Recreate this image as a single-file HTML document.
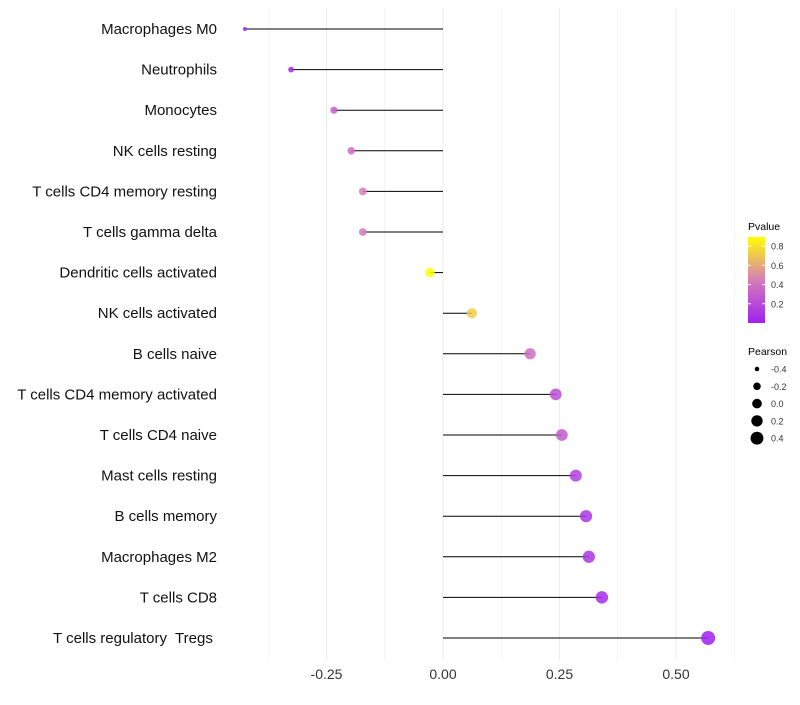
<!DOCTYPE html>
<html><head><meta charset="utf-8"><style>
body{margin:0;background:#fff;font-family:"Liberation Sans",sans-serif}
text{white-space:pre}
</style></head><body>
<svg id="chart" width="800" height="700" xmlns="http://www.w3.org/2000/svg"></svg>
<script>
const categories=["Macrophages M0","Neutrophils","Monocytes","NK cells resting","T cells CD4 memory resting","T cells gamma delta","Dendritic cells activated","NK cells activated","B cells naive","T cells CD4 memory activated","T cells CD4 naive","Mast cells resting","B cells memory","Macrophages M2","T cells CD8","T cells regulatory  Tregs "];
const pearson=[-0.425,-0.326,-0.234,-0.197,-0.172,-0.172,-0.028,0.062,0.187,0.242,0.255,0.285,0.307,0.313,0.341,0.569];
const pvalues=[0.01,0.05,0.3,0.38,0.45,0.45,0.9,0.72,0.38,0.22,0.28,0.15,0.1,0.1,0.05,0.001];
const xTicks=[-0.25,0,0.25,0.5];
const xTickLabels=["-0.25","0.00","0.25","0.50"];
const sizeLegend=[-0.4,-0.2,0.0,0.2,0.4];
const colorLegend=[0.8,0.6,0.4,0.2];

const svg=document.getElementById('chart');
const NS="http://www.w3.org/2000/svg";
function mk(t,a,p){const e=document.createElementNS(NS,t);for(const k in a)e.setAttribute(k,a[k]);(p||svg).appendChild(e);return e;}
const x=v=>443+v*466;
const y=i=>29+i*40.6;
const pmin=Math.min(...pearson),pmax=Math.max(...pearson);
const r=v=>Math.sqrt(2*2+Math.max(0,(v-pmin))/(pmax-pmin)*(7*7-2*2));
function lerp(a,b,t){return a+(b-a)*t;}
function col(p){const t=Math.max(0,Math.min(1,p/0.895));
 const lo=[160,32,240],mid=[214,125,184],hi=[255,255,0];let c;
 if(t<0.5)c=lo.map((v,i)=>lerp(v,mid[i],t*2));else c=mid.map((v,i)=>lerp(v,hi[i],(t-0.5)*2));
 return `rgb(${c.map(Math.round).join(',')})`;}
[-0.375,-0.25,-0.125,0,0.125,0.25,0.375,0.5,0.625].forEach(v=>{
 const g=mk('line',{x1:x(v),x2:x(v),y1:8,y2:660,stroke:'#ededed','stroke-width':xTicks.includes(v)?1.1:0.6});
 
 
});
categories.forEach((c,i)=>{
 const l=mk('line',{x1:x(0),x2:x(pearson[i]),y1:y(i),y2:y(i),stroke:'#000','stroke-width':1});
 
 
 const pt=mk('circle',{cx:x(pearson[i]),cy:y(i),r:r(pearson[i]),fill:col(pvalues[i]),opacity:0.85});
 
 
 const t=mk('text',{x:217,y:y(i)+5,'text-anchor':'end','font-size':15,fill:'#111'});t.textContent=c;
 
 
});
xTicks.forEach((v,i)=>{const t=mk('text',{x:x(v),y:679,'text-anchor':'middle','font-size':14,fill:'#333'});t.textContent=xTickLabels[i];
 
 });
const lt=mk('text',{x:748,y:230,'font-size':10.5,fill:'#000'});lt.textContent='Pvalue';


const defs=mk('defs',{});const gr=mk('linearGradient',{id:'pg',x1:0,y1:1,x2:0,y2:0},defs);
for(let k=0;k<=10;k++){mk('stop',{offset:k/10,'stop-color':col(0.895*k/10)},gr);}
const cb=mk('rect',{x:748,y:237,width:17,height:86,fill:'url(#pg)'});


const cy=p=>323-p/0.895*86;
colorLegend.forEach(p=>{mk('line',{x1:748,x2:751,y1:cy(p),y2:cy(p),stroke:'#fff'});mk('line',{x1:762,x2:765,y1:cy(p),y2:cy(p),stroke:'#fff'});
 const t=mk('text',{x:771,y:cy(p)+3.5,'font-size':9,fill:'#333'});t.textContent=p.toFixed(1);
 
 });
const st=mk('text',{x:748,y:355,'font-size':10.5,fill:'#000'});st.textContent='Pearson';


sizeLegend.forEach((v,i)=>{const yy=369+i*17.3;
 const c=mk('circle',{cx:757,cy:yy,r:r(v),fill:'#000'});
 
 
 const t=mk('text',{x:771,y:yy+3.5,'font-size':9,fill:'#333'});t.textContent=v.toFixed(1);
 
 });
</script>
</body></html>
